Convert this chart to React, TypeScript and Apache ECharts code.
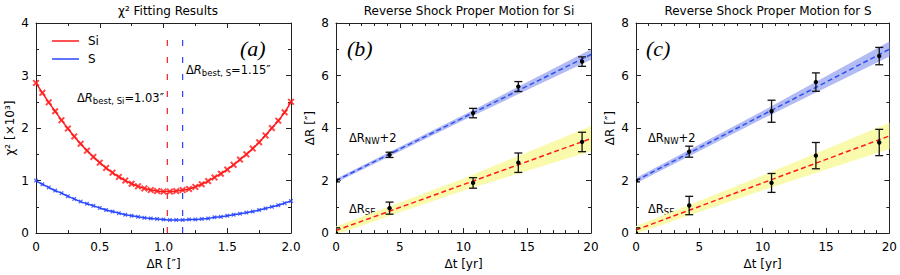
import React, { useEffect, useRef } from "react";
import * as echarts from "echarts";

// ---------- Panel (a): chi^2 fitting ----------
const chiX = [0, 0.05, 0.1, 0.15, 0.2, 0.25, 0.3, 0.35, 0.4, 0.45, 0.5, 0.55, 0.6, 0.65, 0.7, 0.75, 0.8, 0.85, 0.9, 0.95, 1.0,
  1.05, 1.1, 1.15, 1.2, 1.25, 1.3, 1.35, 1.4, 1.45, 1.5, 1.55, 1.6, 1.65, 1.7, 1.75, 1.8, 1.85, 1.9, 1.95, 2.0];
const chiSi = [2.86, 2.67, 2.49, 2.32, 2.15, 1.99, 1.84, 1.7, 1.57, 1.45, 1.34, 1.24, 1.15, 1.07, 1.0, 0.94, 0.89, 0.85, 0.82, 0.8, 0.79,
  0.79, 0.8, 0.82, 0.84, 0.88, 0.93, 0.99, 1.06, 1.13, 1.21, 1.3, 1.4, 1.5, 1.61, 1.73, 1.86, 2.0, 2.14, 2.3, 2.5];
const chiS = [1.0, 0.93, 0.87, 0.81, 0.76, 0.7, 0.65, 0.6, 0.56, 0.52, 0.48, 0.44, 0.41, 0.38, 0.35, 0.33, 0.31, 0.29, 0.28, 0.27, 0.26,
  0.25, 0.25, 0.25, 0.26, 0.26, 0.27, 0.28, 0.3, 0.31, 0.33, 0.35, 0.37, 0.39, 0.41, 0.44, 0.47, 0.5, 0.53, 0.57, 0.61];
const bestSi = 1.03;
const bestS = 1.15;
const bestLineY = [0, 3.85];

// ---------- Panel (b): Si proper motion ----------
const tSi = [0, 4.2, 10.75, 14.3, 19.3];
const siNW = [2.0, 2.98, 4.57, 5.58, 6.53];
const siNWErr = [0.05, 0.1, 0.18, 0.19, 0.18];
const siSE = [0, 0.95, 1.91, 2.68, 3.47];
const siSEErr = [0.2, 0.23, 0.2, 0.37, 0.37];

// ---------- Panel (c): S proper motion ----------
const tS = [0, 4.2, 10.7, 14.2, 19.2];
const sNW = [2.0, 3.1, 4.64, 5.75, 6.74];
const sNWErr = [0.05, 0.21, 0.42, 0.35, 0.33];
const sSE = [0, 1.05, 1.91, 2.95, 3.45];
const sSEErr = [0.2, 0.35, 0.36, 0.5, 0.5];

// Fits and confidence bands
const fitT = [0, 20];
const siNWFit = [2.0, 6.8];
const siSEFit = [0.1, 3.6];
const sNWFit = [2.0, 7.0];
const sSEFit = [0.12, 3.7];
const bandT = [0, 10, 20];
const siNWLo = [1.93, 4.3, 6.6];
const siNWHi = [2.07, 4.5, 7.0];
const siSELo = [-0.05, 1.62, 3.12];
const siSEHi = [0.25, 2.08, 4.08];
const sNWLo = [1.9, 4.35, 6.72];
const sNWHi = [2.1, 4.65, 7.3];
const sSELo = [-0.02, 1.63, 3.2];
const sSEHi = [0.26, 2.19, 4.2];

const RED = "#ff1a1a";
const BLUE = "#2946ff";
const AX = "#222";
const FONT = "DejaVu Sans";

const xMarker = "path://M0,2L2,0L5,3L8,0L10,2L7,5L10,8L8,10L5,7L2,10L0,8L3,5Z";

function zip(a: number[], b: number[]) {
  return a.map((v, i) => [v, b[i]]);
}

function makeAxes(min: number, max: number, interval: number, minorSplit: number, gridIndex: number,
  pos: string, showLabel: boolean, name: string, fmt: (v: number) => string, nameGap: number) {
  return {
    type: "value",
    gridIndex,
    position: pos,
    min, max, interval,
    name: showLabel ? name : "",
    nameLocation: "middle",
    nameGap,
    nameTextStyle: { color: "#000", fontSize: 12, fontFamily: FONT },
    axisLine: { show: true, onZero: false, lineStyle: { color: AX, width: 1 } },
    axisTick: { show: true, inside: true, length: 5, lineStyle: { color: AX, width: 1 } },
    minorTick: { show: true, splitNumber: minorSplit, length: 3, lineStyle: { color: AX, width: 1 } },
    splitLine: { show: false },
    minorSplitLine: { show: false },
    axisLabel: { show: showLabel, color: "#000", fontSize: 12, fontFamily: FONT, margin: pos === "bottom" ? 8 : 7, formatter: fmt },
  };
}

function errSeries(name: string, t: number[], v: number[], e: number[], xi: number, yi: number) {
  return {
    name,
    type: "custom",
    xAxisIndex: xi,
    yAxisIndex: yi,
    clip: true,
    z: 5,
    data: t.map((x, i) => [x, v[i], e[i]]),
    renderItem: (params: any, api: any) => {
      const x = api.value(0), y = api.value(1), err = api.value(2);
      const p = api.coord([x, y]);
      const top = api.coord([x, y + err]);
      const bot = api.coord([x, y - err]);
      const cap = 4;
      const st = { stroke: "#111", lineWidth: 1.3 };
      return {
        type: "group",
        children: [
          { type: "line", shape: { x1: p[0], y1: top[1], x2: p[0], y2: bot[1] }, style: st },
          { type: "line", shape: { x1: p[0] - cap, y1: top[1], x2: p[0] + cap, y2: top[1] }, style: st },
          { type: "line", shape: { x1: p[0] - cap, y1: bot[1], x2: p[0] + cap, y2: bot[1] }, style: st },
          { type: "circle", shape: { cx: p[0], cy: p[1], r: 2.2 }, style: { fill: "#000" } },
        ],
      };
    },
  };
}

function bandSeries(name: string, lo: number[], hi: number[], color: string, xi: number, yi: number) {
  return {
    name,
    type: "custom",
    xAxisIndex: xi,
    yAxisIndex: yi,
    clip: true,
    z: 1,
    silent: true,
    data: [[bandT[0], lo[0]]],
    renderItem: (params: any, api: any) => {
      const pts: number[][] = [];
      bandT.forEach((t, i) => pts.push(api.coord([t, hi[i]])));
      for (let i = bandT.length - 1; i >= 0; i--) pts.push(api.coord([bandT[i], lo[i]]));
      return { type: "polygon", shape: { points: pts }, style: { fill: color } };
    },
  };
}

function fitSeries(name: string, v: number[], color: string, xi: number, yi: number) {
  return {
    name,
    type: "line",
    xAxisIndex: xi,
    yAxisIndex: yi,
    data: zip(fitT, v),
    showSymbol: false,
    z: 3,
    lineStyle: { color, width: 1.5, type: [5, 3] },
  };
}

export default function App() {
  const ref = useRef<HTMLDivElement>(null);
  useEffect(() => {
    if (!ref.current) return;
    const chart = echarts.init(ref.current, undefined, { renderer: "svg" });
    const W = 255, H = 215, TOP = 23;
    const lefts = [36, 336, 636];
    const int = (v: number) => String(v);
    const dec = (v: number) => (v === 0 ? "0" : v.toFixed(1));
    const none = (v: number) => "";

    const sub = (c: string) => ({ fontSize: 8.5, color: c, fontFamily: FONT, lineHeight: 7, verticalAlign: "bottom" });
    const main = (c: string) => ({ fontSize: 11.5, color: c, fontFamily: FONT, lineHeight: 15, verticalAlign: "middle" });
    const ital = (c: string) => ({ fontSize: 11.5, color: c, fontFamily: FONT, fontStyle: "italic", lineHeight: 15, verticalAlign: "middle" });
    const rich = (c: string) => ({ m: main(c), i: ital(c), s: sub(c) });

    const option: any = {
      animation: false,
      textStyle: { fontFamily: FONT },
      title: [
        { text: "χ² Fitting Results", left: 163, top: 0, textAlign: "center", textStyle: { fontSize: 12, fontWeight: "normal", color: "#000", fontFamily: FONT } },
        { text: "Reverse Shock Proper Motion for Si", left: 464, top: 0, textAlign: "center", textStyle: { fontSize: 12, fontWeight: "normal", color: "#000", fontFamily: FONT } },
        { text: "Reverse Shock Proper Motion for S", left: 763, top: 0, textAlign: "center", textStyle: { fontSize: 12, fontWeight: "normal", color: "#000", fontFamily: FONT } },
      ],
      legend: {
        data: ["Si", "S"],
        orient: "vertical",
        left: 47,
        top: 30,
        icon: "rect",
        itemWidth: 27,
        itemHeight: 1.5,
        itemGap: 6,
        textStyle: { fontSize: 12, color: "#000", fontFamily: FONT, padding: [0, 0, 0, 4] },
      },
      grid: lefts.map((l) => ({ left: l, top: TOP, width: W, height: H, show: false })),
      xAxis: [
        makeAxes(0, 2, 0.5, 2, 0, "bottom", true, "ΔR [″]", dec, 20),
        makeAxes(0, 2, 0.5, 2, 0, "top", false, "", none, 0),
        makeAxes(0, 20, 5, 5, 1, "bottom", true, "Δt [yr]", int, 20),
        makeAxes(0, 20, 5, 5, 1, "top", false, "", none, 0),
        makeAxes(0, 20, 5, 5, 2, "bottom", true, "Δt [yr]", int, 20),
        makeAxes(0, 20, 5, 5, 2, "top", false, "", none, 0),
      ],
      yAxis: [
        makeAxes(0, 4, 1, 2, 0, "left", true, "χ² [×10³]", int, 20),
        makeAxes(0, 4, 1, 2, 0, "right", false, "", none, 0),
        makeAxes(0, 8, 2, 2, 1, "left", true, "ΔR [″]", int, 20),
        makeAxes(0, 8, 2, 2, 1, "right", false, "", none, 0),
        makeAxes(0, 8, 2, 2, 2, "left", true, "ΔR [″]", int, 20),
        makeAxes(0, 8, 2, 2, 2, "right", false, "", none, 0),
      ],
      series: [
        // Panel (a)
        { name: "Si", type: "line", xAxisIndex: 0, yAxisIndex: 0, data: zip(chiX, chiSi), smooth: true, showSymbol: false,
          color: RED, lineStyle: { color: RED, width: 1.5 }, z: 3 },
        { name: "S", type: "line", xAxisIndex: 0, yAxisIndex: 0, data: zip(chiX, chiS), smooth: true, showSymbol: false,
          color: BLUE, lineStyle: { color: BLUE, width: 1.5 }, z: 3 },
        { name: "Si pts", type: "scatter", xAxisIndex: 0, yAxisIndex: 0, data: zip(chiX, chiSi), symbol: xMarker, symbolSize: 7,
          itemStyle: { color: RED }, z: 4 },
        { name: "S pts", type: "scatter", xAxisIndex: 0, yAxisIndex: 0, data: zip(chiX, chiS), symbol: xMarker, symbolSize: 4.5,
          itemStyle: { color: BLUE }, z: 4 },
        { name: "best Si", type: "line", xAxisIndex: 0, yAxisIndex: 0, data: bestLineY.map((y) => [bestSi, y]), showSymbol: false,
          lineStyle: { color: RED, width: 1.2, type: [6, 11] }, z: 2 },
        { name: "best S", type: "line", xAxisIndex: 0, yAxisIndex: 0, data: bestLineY.map((y) => [bestS, y]), showSymbol: false,
          lineStyle: { color: BLUE, width: 1.2, type: [6, 11] }, z: 2 },
        // Panel (b)
        bandSeries("Si NW band", siNWLo, siNWHi, "#b3bbf4", 2, 2),
        bandSeries("Si SE band", siSELo, siSEHi, "#fafaad", 2, 2),
        fitSeries("Si NW fit", siNWFit, "#3050ee", 2, 2),
        fitSeries("Si SE fit", siSEFit, RED, 2, 2),
        errSeries("Si NW", tSi, siNW, siNWErr, 2, 2),
        errSeries("Si SE", tSi, siSE, siSEErr, 2, 2),
        // Panel (c)
        bandSeries("S NW band", sNWLo, sNWHi, "#b3bbf4", 4, 4),
        bandSeries("S SE band", sSELo, sSEHi, "#fafaad", 4, 4),
        fitSeries("S NW fit", sNWFit, "#3050ee", 4, 4),
        fitSeries("S SE fit", sSEFit, RED, 4, 4),
        errSeries("S NW", tS, sNW, sNWErr, 4, 4),
        errSeries("S SE", tS, sSE, sSEErr, 4, 4),
      ],
      graphic: [
        { type: "text", left: 240, top: 37, style: { text: "(a)", font: "italic 22px 'Liberation Serif'", fill: "#000" } },
        { type: "text", left: 347, top: 37, style: { text: "(b)", font: "italic 22px 'Liberation Serif'", fill: "#000" } },
        { type: "text", left: 646, top: 37, style: { text: "(c)", font: "italic 22px 'Liberation Serif'", fill: "#000" } },
        { type: "text", left: 186, top: 64, style: { text: "{m|Δ}{i|R}{s|best, S}{m|=1.15″}", rich: rich(BLUE) } },
        { type: "text", left: 77, top: 92, style: { text: "{m|Δ}{i|R}{s|best, Si}{m|=1.03″}", rich: rich(RED) } },
        { type: "text", left: 349, top: 132, style: { text: "{m|ΔR}{s|NW}{m|+2}", rich: rich(BLUE) } },
        { type: "text", left: 349, top: 203, style: { text: "{m|ΔR}{s|SE}", rich: rich(RED) } },
        { type: "text", left: 648, top: 132, style: { text: "{m|ΔR}{s|NW}{m|+2}", rich: rich(BLUE) } },
        { type: "text", left: 648, top: 203, style: { text: "{m|ΔR}{s|SE}", rich: rich(RED) } },
      ],
    };
    chart.setOption(option);
    return () => chart.dispose();
  }, []);
  return <div ref={ref} style={{ position: "absolute", left: 0, top: 0, width: 900, height: 275 }} />;
}
